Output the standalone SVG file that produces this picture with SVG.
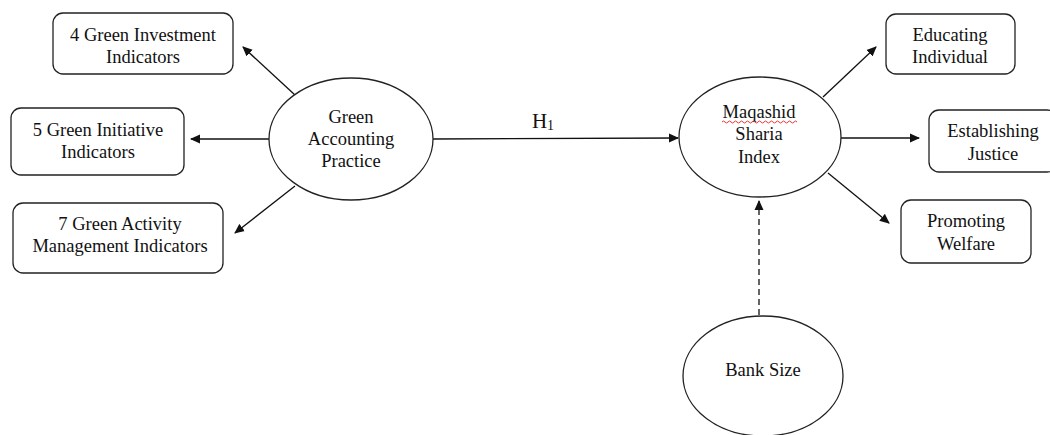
<svg xmlns="http://www.w3.org/2000/svg" width="1050" height="435" viewBox="0 0 1050 435">
<style>
.box{fill:#fff;stroke:#222;stroke-width:1.3}
.ell{fill:#fff;stroke:#222;stroke-width:1.3}
.t{font-family:"Liberation Serif","Times New Roman",serif;font-size:18.5px;fill:#111;text-anchor:middle}
.c{stroke:#111;stroke-width:1.3;fill:none;marker-end:url(#ah)}
.d{stroke-dasharray:6,4}
</style>
<defs>
<marker id="ah" viewBox="0 0 10 10" refX="9" refY="5" markerWidth="10" markerHeight="10" markerUnits="userSpaceOnUse" orient="auto">
<path d="M0,0.5 L10,5 L0,9.5 z" fill="#111"/>
</marker>
</defs>
<rect width="1050" height="435" fill="#fff"/>
<g id="connectors">
<line class="c" x1="295" y1="95" x2="243" y2="47"/>
<line class="c" x1="269" y1="139" x2="191" y2="139"/>
<line class="c" x1="295" y1="186" x2="235" y2="233"/>
<line class="c" x1="433" y1="139" x2="678" y2="138"/>
<line class="c" x1="823" y1="97" x2="876" y2="47"/>
<line class="c" x1="840" y1="138" x2="919" y2="138"/>
<line class="c" x1="828" y1="173" x2="889" y2="223"/>
<line class="c d" x1="759" y1="315" x2="759" y2="201"/>
<text class="t" x="543" y="128" style="font-size:21px">H<tspan font-size="14" dy="2">1</tspan></text>
</g>
<g id="gap">
<ellipse class="ell" cx="351" cy="139" rx="82" ry="61"/>
<text class="t" x="351" y="123">Green</text>
<text class="t" x="351" y="145">Accounting</text>
<text class="t" x="351" y="167">Practice</text>
</g>
<g id="msi">
<ellipse class="ell" cx="760" cy="137" rx="81" ry="60"/>
<text class="t" x="759" y="118">Maqashid</text>
<path d="M722,122 q1.5,-2 3,0 t3,0 t3,0 t3,0 t3,0 t3,0 t3,0 t3,0 t3,0 t3,0 t3,0 t3,0 t3,0 t3,0 t3,0 t3,0 t3,0 t3,0 t3,0 t3,0 t3,0 t3,0 t3,0 t3,0 t3,0" fill="none" stroke="#e33" stroke-width="1"/>
<text class="t" x="759" y="140">Sharia</text>
<text class="t" x="759" y="163">Index</text>
</g>
<g id="banksize">
<ellipse class="ell" cx="763" cy="376" rx="80" ry="60"/>
<text class="t" x="763" y="376">Bank Size</text>
</g>
<g id="gi4">
<rect class="box" x="53" y="13" width="180" height="61" rx="10"/>
<text class="t" x="143" y="41">4 Green Investment</text>
<text class="t" x="143" y="63">Indicators</text>
</g>
<g id="gi5">
<rect class="box" x="11" y="108" width="173" height="67" rx="10"/>
<text class="t" x="98" y="136">5 Green Initiative</text>
<text class="t" x="98" y="158">Indicators</text>
</g>
<g id="ga7">
<rect class="box" x="13" y="203" width="210" height="70" rx="10"/>
<text class="t" x="120" y="230">7 Green Activity</text>
<text class="t" x="120" y="252">Management Indicators</text>
</g>
<g id="edu">
<rect class="box" x="886" y="14" width="129" height="60" rx="10"/>
<text class="t" x="950" y="41">Educating</text>
<text class="t" x="950" y="63">Individual</text>
</g>
<g id="est">
<rect class="box" x="929" y="110" width="128" height="62" rx="10"/>
<text class="t" x="993" y="137">Establishing</text>
<text class="t" x="993" y="160">Justice</text>
</g>
<g id="pro">
<rect class="box" x="901" y="200" width="130" height="63" rx="10"/>
<text class="t" x="966" y="227">Promoting</text>
<text class="t" x="966" y="250">Welfare</text>
</g>
</svg>
